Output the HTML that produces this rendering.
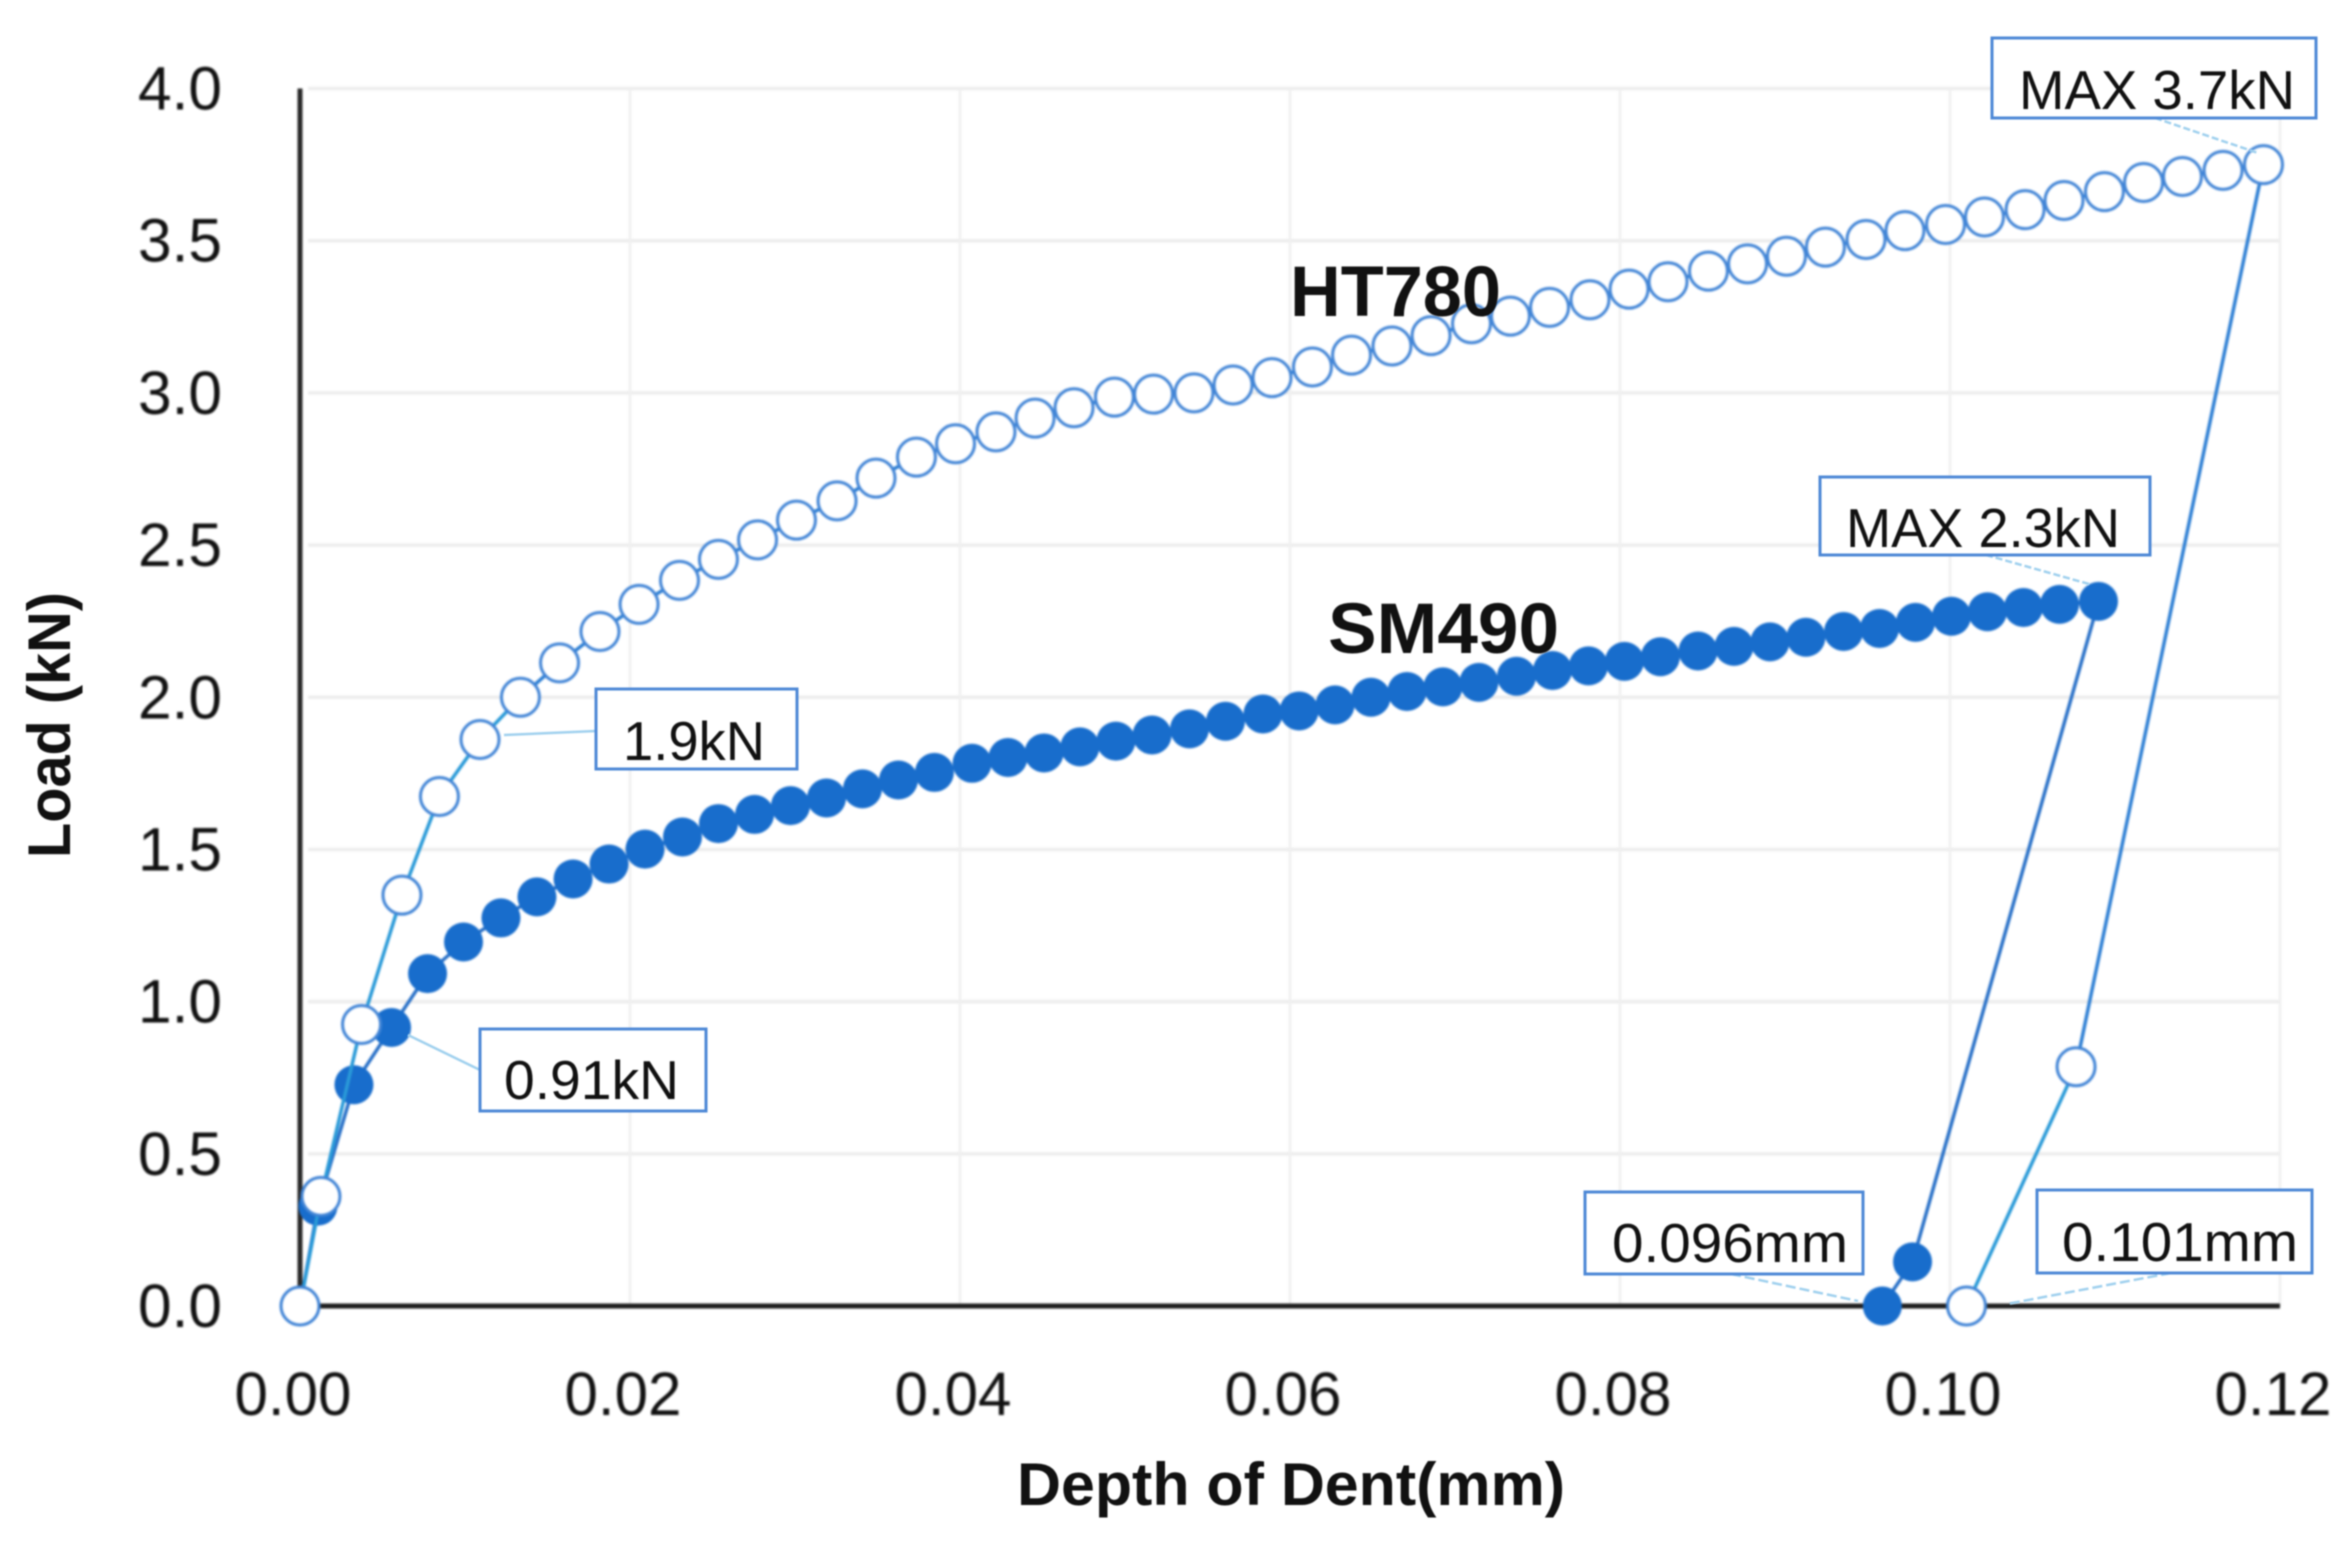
<!DOCTYPE html>
<html lang="en">
<head>
<meta charset="utf-8">
<title>Load vs Depth of Dent</title>
<style>
html,body{margin:0;padding:0;background:#fff;}
svg{display:block;}
text{font-family:"Liberation Sans",sans-serif;fill:#111111;}
</style>
</head>
<body>
<svg id="chart" xmlns="http://www.w3.org/2000/svg" width="2352" height="1545" viewBox="0 0 2352 1545">
<rect x="0" y="0" width="2352" height="1545" fill="#ffffff"/>
<g id="root" style="filter:blur(1px)"></g>
</svg>
<script>
const xTickValues = [0, 0.02, 0.04, 0.06, 0.08, 0.10, 0.12];
const xTickLabels = ["0.00", "0.02", "0.04", "0.06", "0.08", "0.10", "0.12"];
const yTickValues = [0, 0.5, 1, 1.5, 2, 2.5, 3, 3.5, 4];
const yTickLabels = ["0.0", "0.5", "1.0", "1.5", "2.0", "2.5", "3.0", "3.5", "4.0"];

const ht780Depth = [0,.00127,.00373,.00618,.00845,.01091,.01336,.01573,.01818,.02055,.023,.02536,.02773,.03009,.03255,.03491,.03736,.03973,.04218,.04455,.04691,.04936,.05173,.05418,.05655,.05891,.06136,.06373,.06618,.06855,.071,.07336,.07573,.07818,.08055,.08291,.08536,.08773,.09009,.09245,.09491,.09727,.09973,.10209,.10455,.10691,.10936,.11173,.11409,.11655,.119,.10764,.101];
const ht780Load = [0,.36,.925,1.35,1.674,1.861,2.0,2.113,2.216,2.305,2.384,2.453,2.517,2.582,2.645,2.72,2.789,2.833,2.872,2.917,2.951,2.986,2.996,3.0,3.026,3.05,3.085,3.124,3.154,3.188,3.227,3.252,3.281,3.306,3.341,3.365,3.4,3.424,3.449,3.479,3.504,3.533,3.553,3.578,3.602,3.632,3.661,3.691,3.711,3.731,3.75,.786,0];

const sm490Depth = [0,.00109,.00327,.00555,.00773,.00991,.01218,.01436,.01655,.01873,.02091,.02318,.02536,.02755,.02973,.03191,.03409,.03627,.03845,.04073,.04291,.04509,.04727,.04945,.05164,.05391,.05609,.05836,.06055,.06273,.06491,.06709,.06927,.07145,.07373,.07591,.07809,.08027,.08245,.08473,.08691,.08909,.09127,.09355,.09573,.09791,.10009,.10227,.10445,.10664,.109,.09773,.0959];
const sm490Load = [0,.328,.727,.915,1.092,1.196,1.275,1.344,1.403,1.452,1.501,1.541,1.585,1.615,1.644,1.669,1.699,1.728,1.753,1.783,1.802,1.817,1.837,1.856,1.876,1.896,1.921,1.945,1.955,1.975,2.0,2.019,2.034,2.049,2.069,2.088,2.103,2.118,2.133,2.152,2.167,2.182,2.197,2.216,2.226,2.246,2.266,2.281,2.295,2.305,2.315,.145,0];

const NS = "http://www.w3.org/2000/svg";
const root = document.getElementById("root");
const X0 = 300, X1 = 2280, Y0 = 1306, Y1 = 88.5;
function xScale(v){ return X0 + (v / 0.12) * (X1 - X0); }
function yScale(v){ return Y0 - (v / 4) * (Y0 - Y1); }
function make(tag, props, parent){
  const el = document.createElementNS(NS, tag);
  for (const k in props) el.setAttribute(k, props[k]);
  (parent || root).appendChild(el);
  return el;
}

// gridlines
yTickValues.forEach(function(v){
  if (v === 0) return;
  const g = make("line", {x1: X0 + 8, x2: X1, y1: yScale(v), y2: yScale(v), stroke: "#ededed", "stroke-width": 3.5});
  
  
});
xTickValues.forEach(function(v){
  if (v === 0) return;
  const g = make("line", {x1: xScale(v), x2: xScale(v), y1: Y1, y2: Y0, stroke: "#f0f0f0", "stroke-width": 2.5});
  
  
});

// axes
const yAxis = make("line", {x1: X0, x2: X0, y1: Y1, y2: Y0 + 2, stroke: "#2a2a2a", "stroke-width": 5});


const xAxis = make("line", {x1: X0, x2: X1, y1: Y0, y2: Y0, stroke: "#1f1f1f", "stroke-width": 5});



// tick labels
yTickValues.forEach(function(v, i){
  const t = make("text", {x: 222, y: yScale(v) + 21, "text-anchor": "end", "font-size": 61, textLength: 84, lengthAdjust: "spacingAndGlyphs"});
  t.textContent = yTickLabels[i];
  
  
});
xTickValues.forEach(function(v, i){
  const t = make("text", {x: xScale(v) - 7, y: 1415, "text-anchor": "middle", "font-size": 61, textLength: 117, lengthAdjust: "spacingAndGlyphs"});
  t.textContent = xTickLabels[i];
  
  
});

// series
function points(xs, ys){
  return xs.map(function(x, i){ return xScale(x) + "," + yScale(ys[i]); }).join(" ");
}
const smLine = make("polyline", {points: points(sm490Depth, sm490Load), fill: "none", stroke: "#2b72c8", "stroke-width": 3.5});


sm490Depth.forEach(function(x, i){
  const c = make("circle", {cx: xScale(x), cy: yScale(sm490Load[i]), r: 19.5, fill: "#186dcc"});
  
  
});
ht780Depth.forEach(function(x, i){
  if (i === ht780Depth.length - 1) return;
  const light = i < 6 || i === ht780Depth.length - 2;
  const s = make("line", {x1: xScale(x), y1: yScale(ht780Load[i]), x2: xScale(ht780Depth[i + 1]), y2: yScale(ht780Load[i + 1]), stroke: light ? "#2a9ad8" : "#2f80d4", "stroke-width": 3.5});
  
  
});
ht780Depth.forEach(function(x, i){
  const c = make("circle", {cx: xScale(x), cy: yScale(ht780Load[i]), r: 19, fill: "#ffffff", stroke: "#4285d6", "stroke-width": 3});
  
  
});
</script>
<svg style="position:absolute;left:0;top:0" xmlns="http://www.w3.org/2000/svg" width="2352" height="1545" viewBox="0 0 2352 1545">
<g style="filter:blur(0.8px)">
<text x="1017" y="1505" font-size="60" font-weight="bold" textLength="548" lengthAdjust="spacingAndGlyphs">Depth of Dent(mm)</text>
<text transform="rotate(-90 70 725)" x="70" y="725" text-anchor="middle" font-size="60" font-weight="bold" textLength="266" lengthAdjust="spacingAndGlyphs">Load (kN)</text>
<text x="1290" y="316" font-size="71" font-weight="bold" textLength="211" lengthAdjust="spacingAndGlyphs" fill="#000">HT780</text>
<text x="1328" y="653" font-size="71" font-weight="bold" textLength="231" lengthAdjust="spacingAndGlyphs" fill="#000">SM490</text>

<g fill="none" stroke="#9fd0ee" stroke-width="2.5">
<line x1="2155" y1="118" x2="2258" y2="153" stroke-dasharray="7 3"/>
<line x1="1986" y1="555" x2="2089" y2="584" stroke-dasharray="7 3"/>
<line x1="504" y1="735" x2="596" y2="731"/>
<line x1="408" y1="1035" x2="480" y2="1070"/>
<line x1="1731" y1="1274" x2="1858" y2="1301" stroke-dasharray="10 4"/>
<line x1="2171" y1="1273" x2="2007" y2="1304" stroke-dasharray="10 4"/>
</g>

<g fill="#ffffff" stroke="#4d88d6" stroke-width="3">
<rect x="1992" y="38" width="324" height="80"/>
<rect x="1820" y="477" width="330" height="78"/>
<rect x="596" y="689" width="201" height="80"/>
<rect x="480" y="1029" width="226" height="82"/>
<rect x="1585" y="1192" width="278" height="82"/>
<rect x="2037" y="1190" width="275" height="83"/>
</g>

<g font-size="55">
<text x="2019" y="109" textLength="276" lengthAdjust="spacingAndGlyphs">MAX 3.7kN</text>
<text x="1846" y="547" textLength="274" lengthAdjust="spacingAndGlyphs">MAX 2.3kN</text>
<text x="623" y="760" textLength="142" lengthAdjust="spacingAndGlyphs">1.9kN</text>
<text x="504" y="1099" textLength="175" lengthAdjust="spacingAndGlyphs">0.91kN</text>
<text x="1612" y="1262" textLength="236" lengthAdjust="spacingAndGlyphs">0.096mm</text>
<text x="2062" y="1261" textLength="236" lengthAdjust="spacingAndGlyphs">0.101mm</text>
</g>
</g>
</svg>
</body>
</html>
